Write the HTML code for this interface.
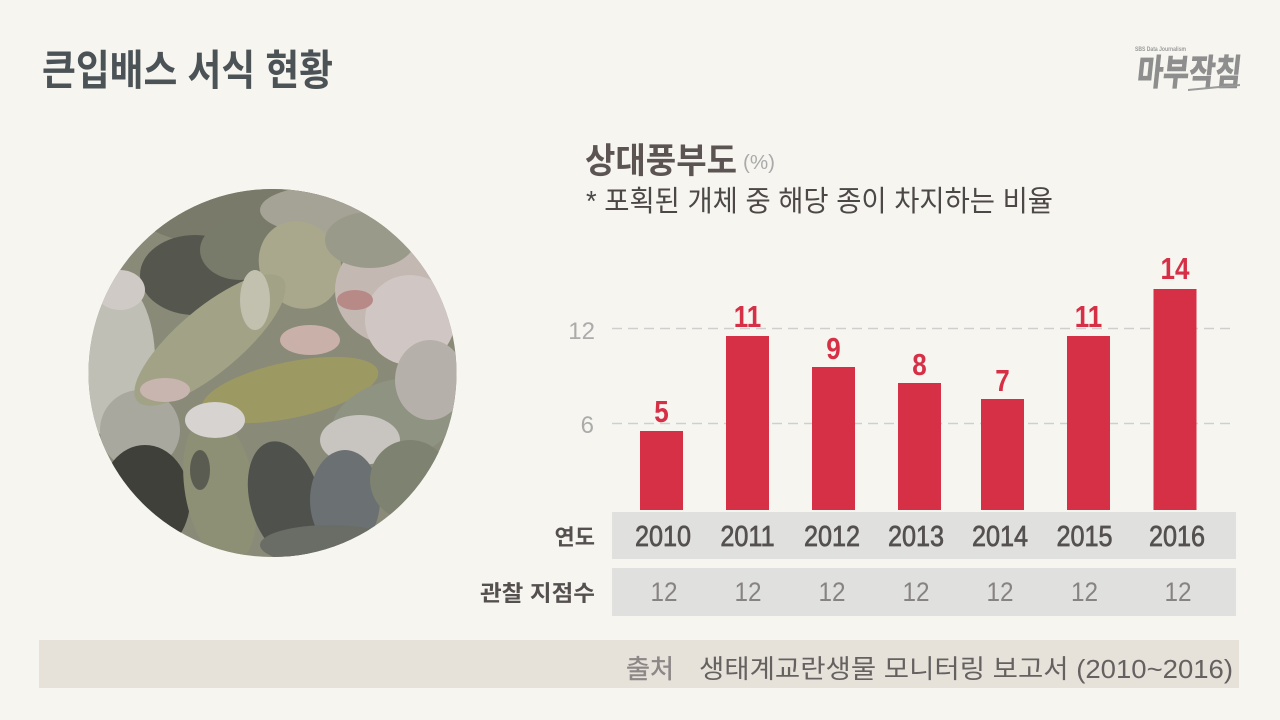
<!DOCTYPE html>
<html><head><meta charset="utf-8">
<style>
html,body{margin:0;padding:0;background:#f6f5f0;}
svg{display:block;}
</style></head>
<body>
<svg width="1280" height="720" viewBox="0 0 1280 720" xmlns="http://www.w3.org/2000/svg" font-family="'Liberation Sans','Noto Sans CJK KR',sans-serif">
<rect width="1280" height="720" fill="#f6f5f0"/>

<!-- Title -->
<text x="42" y="85" font-size="42" font-weight="bold" fill="#4b5356" textLength="291" lengthAdjust="spacingAndGlyphs">큰입배스 서식 현황</text>

<!-- Logo -->
<text x="1135" y="51" font-size="6" font-weight="bold" fill="#9a9a9a" textLength="51" lengthAdjust="spacingAndGlyphs">SBS Data Journalism</text>
<g transform="translate(1136,85) skewX(-6)">
<text x="0" y="0" font-size="36" font-weight="bold" fill="#8e8e8e" stroke="#8e8e8e" stroke-width="0.8" textLength="104" lengthAdjust="spacingAndGlyphs">마부작침</text>
</g>
<polygon points="1188,89 1240,84 1240,86 1188,91" fill="#9a9a9a"/>

<!-- Photo circle -->
<defs><clipPath id="cc"><circle cx="272.5" cy="373" r="184"/></clipPath></defs>
<g clip-path="url(#cc)">
<rect x="80" y="180" width="390" height="390" fill="#8a8a78"/>
<ellipse cx="270" cy="215" rx="130" ry="35" fill="#7a7a6a"/>
<ellipse cx="330" cy="210" rx="70" ry="25" fill="#a5a395"/>
<ellipse cx="195" cy="275" rx="55" ry="40" fill="#55564e"/>
<ellipse cx="240" cy="250" rx="40" ry="30" fill="#787a6a"/>
<ellipse cx="300" cy="265" rx="40" ry="45" transform="rotate(-30 300 265)" fill="#a9a88c"/>
<ellipse cx="395" cy="290" rx="60" ry="55" fill="#c4b8b2"/>
<ellipse cx="410" cy="320" rx="45" ry="45" fill="#d0c6c3"/>
<ellipse cx="370" cy="240" rx="45" ry="28" fill="#9a9a8a"/>
<ellipse cx="115" cy="360" rx="40" ry="80" fill="#bfbfb6"/>
<ellipse cx="140" cy="430" rx="40" ry="40" fill="#a8a89e"/>
<ellipse cx="210" cy="340" rx="95" ry="32" transform="rotate(-40 210 340)" fill="#a2a386"/>
<ellipse cx="290" cy="390" rx="90" ry="28" transform="rotate(-12 290 390)" fill="#9c9a62"/>
<ellipse cx="310" cy="340" rx="30" ry="15" fill="#c9b0a8"/>
<ellipse cx="395" cy="420" rx="65" ry="40" transform="rotate(-15 395 420)" fill="#8f9382"/>
<ellipse cx="360" cy="440" rx="40" ry="25" fill="#c8c4c0"/>
<ellipse cx="430" cy="380" rx="35" ry="40" fill="#b5b0aa"/>
<ellipse cx="145" cy="500" rx="45" ry="55" fill="#3f403a"/>
<ellipse cx="220" cy="490" rx="35" ry="75" transform="rotate(-10 220 490)" fill="#8d9074"/>
<ellipse cx="285" cy="500" rx="35" ry="60" transform="rotate(-15 285 500)" fill="#4f524c"/>
<ellipse cx="345" cy="500" rx="35" ry="50" fill="#6b7073"/>
<ellipse cx="410" cy="480" rx="40" ry="40" fill="#7e8270"/>
<ellipse cx="215" cy="420" rx="30" ry="18" fill="#d6d3d0"/>
<ellipse cx="255" cy="300" rx="15" ry="30" fill="#c2c1b0"/>
<ellipse cx="120" cy="290" rx="25" ry="20" fill="#cfcac5"/>
<ellipse cx="330" cy="545" rx="70" ry="20" fill="#6a6d66"/>
<ellipse cx="165" cy="390" rx="25" ry="12" fill="#c8b5b0"/>
<ellipse cx="355" cy="300" rx="18" ry="10" fill="#b78a88"/>
<ellipse cx="200" cy="470" rx="10" ry="20" fill="#5a5c52"/>
</g>

<!-- Chart headings -->
<text x="585" y="173" font-size="35" font-weight="bold" fill="#5c5353" textLength="152" lengthAdjust="spacingAndGlyphs">상대풍부도</text>
<text x="743" y="169" font-size="20" fill="#aaaaaa" textLength="32" lengthAdjust="spacingAndGlyphs">(%)</text>
<text x="586" y="211" font-size="29" fill="#4d4848" textLength="467" lengthAdjust="spacingAndGlyphs">* 포획된 개체 중 해당 종이 차지하는 비율</text>

<!-- Gridlines -->
<line x1="612" y1="328.5" x2="1236" y2="328.5" stroke="#cfcfcf" stroke-width="1.5" stroke-dasharray="10 6"/>
<line x1="612" y1="423.5" x2="1236" y2="423.5" stroke="#cfcfcf" stroke-width="1.5" stroke-dasharray="10 6"/>
<text x="595" y="339" font-size="24" fill="#ababab" text-anchor="end">12</text>
<text x="594" y="433" font-size="24" fill="#ababab" text-anchor="end">6</text>

<!-- Bars -->
<g fill="#d63047">
<rect x="640" y="431" width="43" height="79"/>
<rect x="726" y="336" width="43" height="174"/>
<rect x="812" y="367" width="43" height="143"/>
<rect x="898" y="383" width="43" height="127"/>
<rect x="981" y="399" width="43" height="111"/>
<rect x="1067" y="336" width="43" height="174"/>
<rect x="1153.5" y="289" width="43" height="221"/>
</g>
<g font-size="31" font-weight="bold" fill="#d63047" text-anchor="middle">
<text transform="translate(661.5,422) scale(0.84,1)">5</text>
<text transform="translate(747.5,327) scale(0.84,1)">11</text>
<text transform="translate(833.5,359) scale(0.84,1)">9</text>
<text transform="translate(919.5,375) scale(0.84,1)">8</text>
<text transform="translate(1002.5,391) scale(0.84,1)">7</text>
<text transform="translate(1088.5,327) scale(0.84,1)">11</text>
<text transform="translate(1175,279) scale(0.84,1)">14</text>
</g>

<!-- Table rows -->
<rect x="612" y="512" width="624" height="47" fill="#e0e0df"/>
<rect x="612" y="568" width="624" height="48" fill="#e0e0df"/>
<text x="595" y="545" font-size="22" font-weight="bold" fill="#555050" text-anchor="end">연도</text>
<text x="480" y="601" font-size="22" font-weight="bold" fill="#555050" textLength="115" lengthAdjust="spacingAndGlyphs">관찰 지점수</text>
<g font-size="29" fill="#555050" stroke="#555050" stroke-width="0.7" text-anchor="middle">
<text transform="translate(663,546) scale(0.87,1)">2010</text>
<text transform="translate(747.5,546) scale(0.87,1)">2011</text>
<text transform="translate(832,546) scale(0.87,1)">2012</text>
<text transform="translate(916,546) scale(0.87,1)">2013</text>
<text transform="translate(1000,546) scale(0.87,1)">2014</text>
<text transform="translate(1084.5,546) scale(0.87,1)">2015</text>
<text transform="translate(1177,546) scale(0.87,1)">2016</text>
</g>
<g font-size="27" fill="#888383" text-anchor="middle">
<text transform="translate(664,601) scale(0.9,1)">12</text>
<text transform="translate(748,601) scale(0.9,1)">12</text>
<text transform="translate(832,601) scale(0.9,1)">12</text>
<text transform="translate(916,601) scale(0.9,1)">12</text>
<text transform="translate(1000,601) scale(0.9,1)">12</text>
<text transform="translate(1084.5,601) scale(0.9,1)">12</text>
<text transform="translate(1178,601) scale(0.9,1)">12</text>
</g>

<!-- Source -->
<rect x="39" y="640" width="1200" height="48" fill="#e6e2d9"/>
<text x="626" y="678" font-size="26" fill="#8d8787" stroke="#8d8787" stroke-width="0.4" textLength="48" lengthAdjust="spacingAndGlyphs">출처</text>
<text x="699" y="678" font-size="26" fill="#666161" textLength="534" lengthAdjust="spacingAndGlyphs">생태계교란생물 모니터링 보고서 (2010~2016)</text>
</svg>
</body></html>
